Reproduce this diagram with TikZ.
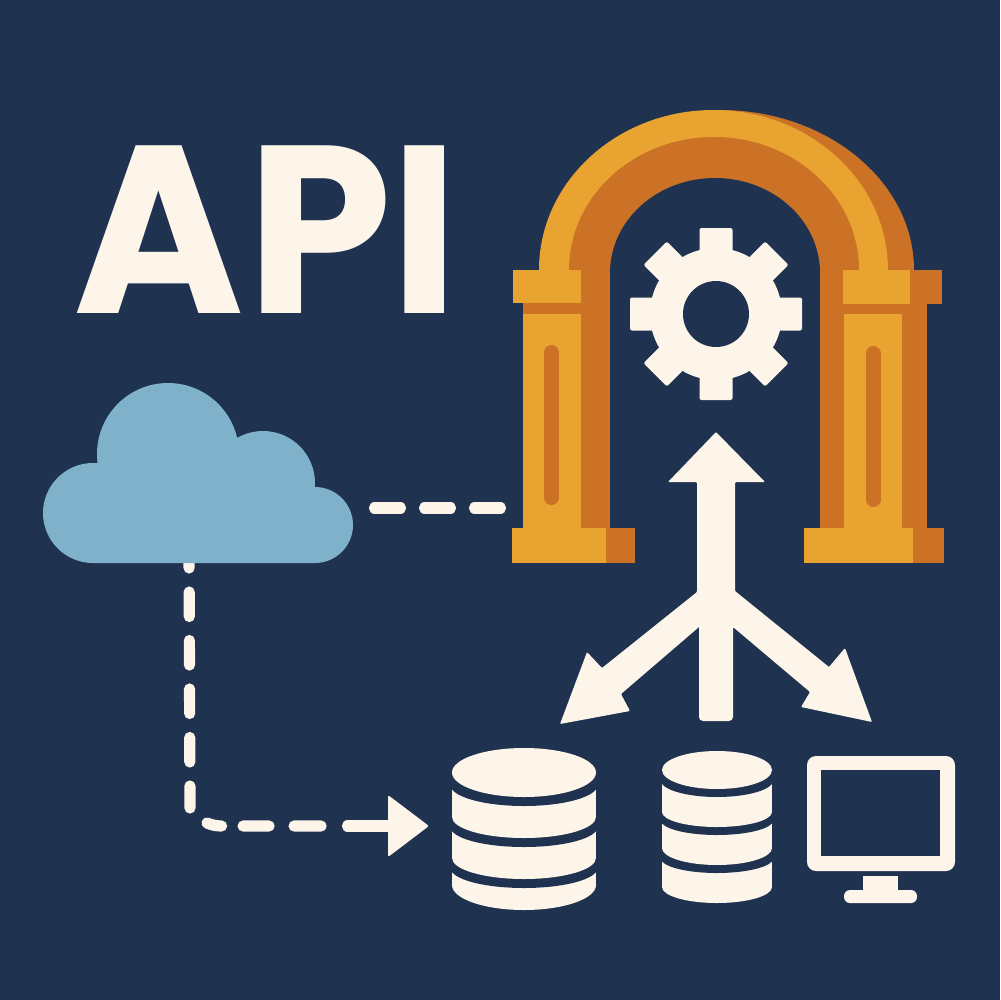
\documentclass[tikz,border=0pt]{standalone}
\usepackage{fontspec}
\setmainfont{Poppins}
\definecolor{bgc}{HTML}{1F3350}
\definecolor{cream}{HTML}{FDF4EA}
\definecolor{goldl}{HTML}{E9A331}
\definecolor{goldd}{HTML}{CB7226}
\definecolor{cloudc}{HTML}{80B1CB}
% half ellipse over a base line: cx, cy, rx, ry
\newcommand\domepath[4]{({#1-#3},#2) .. controls ({#1-#3},{#2-.5523*#4}) and ({#1-.5523*#3},{#2-#4}) .. (#1,{#2-#4}) .. controls ({#1+.5523*#3},{#2-#4}) and ({#1+#3},{#2-.5523*#4}) .. ({#1+#3},#2) -- cycle}
% one database layer: cx, rx, side top, side bottom, bottom depth, cap depth
\newcommand\dblayer[6]{%
  \fill[cream] ({#1-#2},#3) rectangle ({#1+#2},#4);
  \fill[cream] (#1,#4) ellipse [x radius=#2, y radius=#5];
  \fill[bgc] (#1,#3) ellipse [x radius={#2+1.5}, y radius=#6];
}
\tikzset{
  x=0.1mm,y=-0.1mm,
  dashbase/.style={draw=cream,line width=1.12mm,line cap=round},
  dashline/.style={dashbase,dash pattern=on 2.6mm off 2.4mm},
  dashdown/.style={dashbase,dash pattern=on 2.45mm off 2.4mm},
  dashacross/.style={dashbase,dash pattern=on 1.5mm off 2.15mm on 2.6mm off 2.5mm on 2.7mm off 9mm},
  slot/.style={draw=goldd,line width=1.5mm,line cap=round},
  titletext/.style={text=cream,font=\fontsize{68}{68}\selectfont\bfseries,inner sep=0pt,anchor=base west,transform shape,xscale=0.97},
}
\begin{document}
\begin{tikzpicture}
\useasboundingbox (0,0) rectangle (1000,1000);
\fill[bgc] (0,0) rectangle (1000,1000);

% title
\node[titletext] (title) at (72.5,313) {A\kern1pt P\kern-0.4pt I};

% connector anchors
\coordinate (cloudE) at (374.5,508);
\coordinate (archW) at (500.5,508);
\coordinate (cloudS) at (189,543.5);
\coordinate (bendA) at (190,808);
\coordinate (bendB) at (207,823);
\coordinate (acrossEnd) at (321.5,826);
\coordinate (lastdash) at (347.5,826);
\coordinate (headbase) at (392,826);
\coordinate (dbW) at (429,826);

% arch
\begin{scope}
  \clip (713,100) rectangle (925,271);
  \fill[goldd] \domepath{720}{270}{194}{160};
\end{scope}
\fill[goldl] \domepath{713.5}{270}{174.5}{160};
\fill[goldd] \domepath{714}{270}{145}{133};
\fill[bgc] \domepath{715}{273}{105}{95};
\fill[bgc] (610,272) rectangle (820,528);
% left column
\fill[goldd] (581,270) rectangle (610,528);
\fill[goldd] (523,303) rectangle (581,314);
\fill[goldl] (523,314) rectangle (581,528);
\fill[goldl] (513,270) rectangle (581,303);
\draw[slot] (551.5,352.5) -- (551.5,497.5);
\fill[goldl] (512,528) rectangle (606,563);
\fill[goldd] (606,528) rectangle (635,563);
% right column
\fill[goldd] (820,270) rectangle (844,528);
\fill[goldd] (843,304) rectangle (927,314);
\fill[goldl] (844,314) rectangle (902,528);
\fill[goldd] (902,314) rectangle (927,528);
\fill[goldl] (843,270) rectangle (910,304);
\fill[goldd] (910,270) rectangle (942,304);
\draw[slot] (873,353.5) -- (873,499.5);
\fill[goldl] (804,528) rectangle (913,563);
\fill[goldd] (913,528) rectangle (944,563);

% gear
\fill[cream] (716,314) circle (66);
\foreach \a in {0,45,...,315}
  \fill[cream,rounded corners=0.2mm,rotate around={\a:(716,314)}] (699.5,228) rectangle (732.5,275);
\fill[bgc] (716,314) circle (33);

% branching arrow
\fill[cream,rounded corners=0.1mm]
  (716,432) -- (765,482) -- (735,482) -- (735,591) -- (829,667) -- (845,648)
  -- (872,722) -- (801,707) -- (810,692) -- (733,627) [rounded corners=0.4mm] -- (733,721) -- (699,721)
  [sharp corners] -- (699,627) [rounded corners=0.1mm] -- (621,694) -- (630,711) -- (560,724) -- (587,652) -- (602,668)
  -- (697,592) -- (697,482) -- (668,482) -- cycle;

% dashed connectors
\draw[dashline] (cloudE) -- (archW);
\draw[dashdown] (cloudS) -- (bendA);
\draw[dashacross] (bendB) .. controls (212,825) and (216,826) .. (222,826) -- (acrossEnd);
\draw[dashbase] (lastdash) -- (headbase);
\fill[cream,rounded corners=0.2mm] (388,795) -- (dbW) -- (388,857) -- cycle;

% cloud
\fill[cloudc] (93,513) circle (50);
\fill[cloudc] (168,454) circle (71);
\fill[cloudc] (263,483) circle (52);
\fill[cloudc] (315,525) circle (38);
\fill[cloudc] (98,460) -- (230,440) -- (262,483) -- (314,487) -- (315,563) -- (93,563) -- cycle;

% database 1
\dblayer{524}{72}{868}{885}{25}{20}
\dblayer{524}{72}{827}{858}{21}{20}
\dblayer{524}{72}{785}{817}{21}{21}
\fill[cream] (524,772.5) ellipse [x radius=72, y radius=24.5];

% database 2
\dblayer{717}{55}{858}{887}{16}{15}
\dblayer{717}{55}{820}{848}{17}{15}
\dblayer{717}{55}{780}{812}{15}{17}
\fill[cream] (717,770) ellipse [x radius=55, y radius=19];

% monitor
\fill[cream,rounded corners=0.9mm] (807,756) rectangle (955,871);
\fill[bgc] (821,770) rectangle (940,856);
\fill[cream] (863,876) rectangle (898,892);
\fill[cream,rounded corners=0.6mm] (844,890) rectangle (917,903);
\end{tikzpicture}
\end{document}
